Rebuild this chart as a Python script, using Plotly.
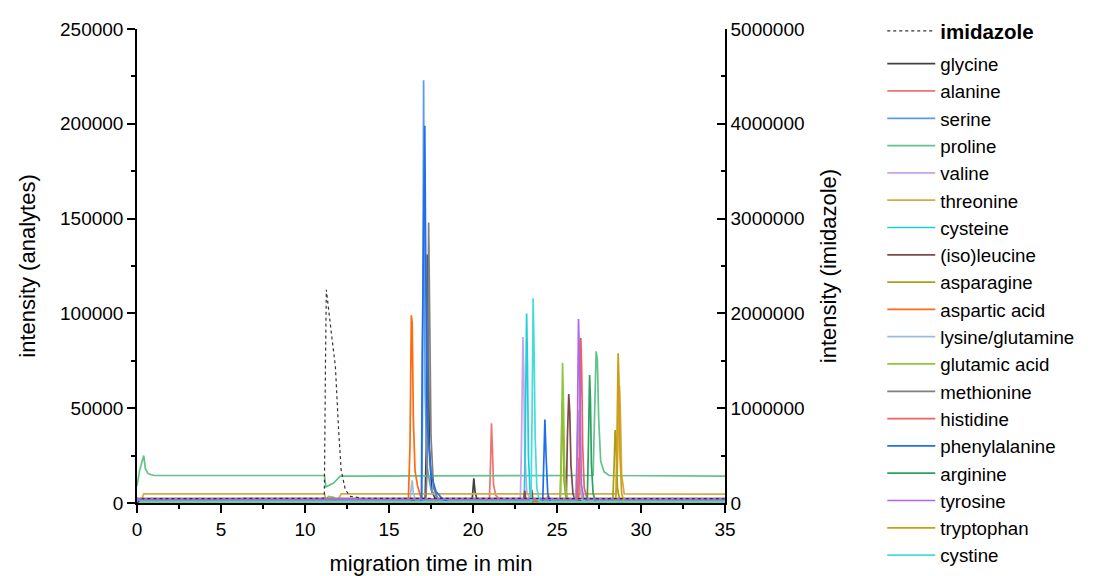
import plotly.graph_objects as go

# ---- electropherogram data: migration time (min) / intensity ----
imidazole_t = [0, 0.3, 11.1, 11.15, 11.22, 11.27, 11.57, 11.81, 12.0, 12.15, 12.4, 12.7, 13.5, 35]
imidazole_i = [0, 45000, 50000, 60000, 1500000, 2250000, 1790000, 1440000, 770000, 350000, 140000, 70000, 50000, 45000]

glycine_t = [0, 17.15, 17.22, 17.28, 17.33, 17.4, 17.55, 17.8, 19.95, 20.0, 20.05, 20.12, 20.25, 35]
glycine_i = [1500, 1500, 30000, 131000, 90000, 30000, 6000, 1500, 1500, 8000, 13000, 6000, 1500, 1500]

alanine_t = [0, 20.98, 21.04, 21.1, 21.15, 21.22, 21.35, 21.6, 35]
alanine_i = [2000, 2000, 20000, 42000, 30000, 10000, 4000, 2000, 2000]

serine_t = [0, 16.95, 17.0, 17.06, 17.1, 17.15, 17.25, 17.5, 17.9, 18.3, 35]
serine_i = [500, 500, 60000, 223000, 140000, 60000, 20000, 7000, 2500, 500, 500]

proline_t = [0, 0.15, 0.4, 0.5, 0.66, 1.0, 11.15, 11.25, 11.7, 12.1, 27.15, 27.25, 27.33,
             27.4, 27.48, 27.6, 27.8, 28.1, 35]
proline_i = [9000, 17000, 25000, 18000, 15500, 14500, 14500, 8500, 10500, 14200, 14500, 45000, 80000,
             76000, 45000, 22000, 16500, 14500, 14200]

valine_t = [0, 22.82, 22.88, 22.93, 22.97, 23.02, 23.08, 23.2, 23.4, 35]
valine_i = [2200, 2200, 28000, 60000, 87500, 70000, 28000, 6000, 2200, 2200]

threonine_t = [0, 0.25, 0.4, 11.15, 11.25, 12.0, 12.15, 28.55, 28.63, 28.72, 28.78, 28.85, 29.0, 35]
threonine_i = [0, 1000, 4800, 4800, 2000, 2200, 4800, 4800, 30000, 62000, 45000, 15000, 4800, 4700]

cysteine_t = [0, 23.05, 23.12, 23.19, 23.24, 23.3, 23.4, 23.55, 35]
cysteine_i = [300, 300, 40000, 100000, 75000, 25000, 5000, 300, 300]

isoleucine_t = [0, 23.0, 23.08, 23.16, 23.42, 23.5, 23.58, 25.55, 25.62, 25.7, 25.76, 25.83, 25.95, 26.1, 35]
isoleucine_i = [300, 300, 6500, 300, 300, 7000, 300, 300, 35000, 57500, 48000, 20000, 5000, 300, 300]

asparagine_t = [0, 25.18, 25.25, 25.3, 25.35, 25.42, 25.55, 28.32, 28.4, 28.46, 28.52, 28.6, 28.75, 35]
asparagine_i = [800, 800, 25000, 53000, 40000, 12000, 800, 800, 20000, 38500, 30000, 8000, 800, 800]

aspartic_t = [0, 16.15, 16.25, 16.33, 16.38, 16.45, 16.55, 16.7, 16.9, 17.1,
              24.38, 24.45, 24.52, 26.2, 26.3, 26.4, 26.5, 35]
aspartic_i = [1000, 1000, 30000, 99000, 95000, 44000, 17000, 9000, 3000, 1000,
              1000, 3700, 1000, 1000, 24000, 8000, 1000, 1000]

lysgln_t = [0, 16.25, 16.32, 16.38, 16.45, 16.6, 26.1, 26.18, 26.25, 26.3, 26.38, 26.5, 35]
lysgln_i = [1200, 1200, 8000, 12000, 5000, 1200, 1200, 20000, 49000, 35000, 10000, 1200, 1200]

glutamic_t = [0, 11.2, 11.4, 11.7, 11.9, 25.2, 25.27, 25.33, 25.38, 25.45, 25.55, 25.7, 35]
glutamic_i = [600, 600, 3500, 3000, 600, 600, 30000, 74000, 55000, 20000, 5000, 600, 600]

methionine_t = [0, 17.2, 17.28, 17.36, 17.42, 17.5, 17.65, 17.9, 35]
methionine_i = [2500, 2500, 20000, 148000, 100000, 35000, 8000, 2500, 2500]

histidine_t = [0, 26.3, 26.36, 26.42, 26.47, 26.53, 26.62, 26.8, 35]
histidine_i = [1800, 1800, 40000, 87000, 70000, 30000, 8000, 1800, 1800]

phenylalanine_t = [0, 16.93, 16.98, 17.03, 17.08, 17.13, 17.2, 17.3, 17.5, 17.8, 18.2, 18.6,
                   24.15, 24.22, 24.28, 24.35, 24.45, 24.6, 35]
phenylalanine_i = [400, 400, 80000, 133000, 150000, 199000, 110000, 40000, 15000, 6000, 2000, 400,
                   400, 25000, 44000, 25000, 5000, 400, 400]

arginine_t = [0, 26.8, 26.87, 26.94, 26.99, 27.05, 27.15, 27.3, 35]
arginine_i = [700, 700, 30000, 67500, 55000, 20000, 5000, 700, 700]

tyrosine_t = [0, 26.15, 26.22, 26.28, 26.33, 26.38, 26.45, 26.6, 35]
tyrosine_i = [2000, 2000, 40000, 97000, 80000, 40000, 10000, 2000, 2000]

tryptophan_t = [0, 28.5, 28.57, 28.64, 28.69, 28.75, 28.85, 29.0, 35]
tryptophan_i = [300, 300, 35000, 79000, 65000, 25000, 5000, 300, 300]

cystine_t = [0, 23.45, 23.52, 23.58, 23.63, 23.7, 23.8, 23.95, 35]
cystine_i = [600, 600, 50000, 108000, 85000, 35000, 8000, 600, 600]

analytes = [
    ("glycine", glycine_t, glycine_i),
    ("alanine", alanine_t, alanine_i),
    ("serine", serine_t, serine_i),
    ("proline", proline_t, proline_i),
    ("valine", valine_t, valine_i),
    ("threonine", threonine_t, threonine_i),
    ("cysteine", cysteine_t, cysteine_i),
    ("(iso)leucine", isoleucine_t, isoleucine_i),
    ("asparagine", asparagine_t, asparagine_i),
    ("aspartic acid", aspartic_t, aspartic_i),
    ("lysine/glutamine", lysgln_t, lysgln_i),
    ("glutamic acid", glutamic_t, glutamic_i),
    ("methionine", methionine_t, methionine_i),
    ("histidine", histidine_t, histidine_i),
    ("phenylalanine", phenylalanine_t, phenylalanine_i),
    ("arginine", arginine_t, arginine_i),
    ("tyrosine", tyrosine_t, tyrosine_i),
    ("tryptophan", tryptophan_t, tryptophan_i),
    ("cystine", cystine_t, cystine_i),
]

# ---- styling ----
colors = {
    "glycine": "#404040",
    "alanine": "#f07272",
    "serine": "#5b9bef",
    "proline": "#62c48c",
    "valine": "#c9a2e8",
    "threonine": "#d6aa45",
    "cysteine": "#1cd0d8",
    "(iso)leucine": "#7e4a4a",
    "asparagine": "#a3a01a",
    "aspartic acid": "#ff6a10",
    "lysine/glutamine": "#9bbce0",
    "glutamic acid": "#8dc63f",
    "methionine": "#808080",
    "histidine": "#f06060",
    "phenylalanine": "#1f6feb",
    "arginine": "#2ea05f",
    "tyrosine": "#b266e6",
    "tryptophan": "#cc9e14",
    "cystine": "#45dcdc",
}

FONT = "Liberation Sans, Arial, sans-serif"
LEGEND_X = 0.8006

fig = go.Figure()

fig.add_trace(go.Scatter(
    x=imidazole_t, y=imidazole_i, name="<b>imidazole</b>", mode="lines",
    line=dict(color="#333333", width=1.2, dash="dot"),
    yaxis="y2", legend="legend2",
))

# the analyte key is split over two stacked legend boxes
for k, (name, t, inten) in enumerate(analytes):
    fig.add_trace(go.Scatter(
        x=t, y=inten, name=name, mode="lines",
        line=dict(color=colors[name], width=1.7),
        legend="legend" if k < 10 else "legend3",
    ))

axis_common = dict(
    showgrid=False, zeroline=False, showline=True, linecolor="black", linewidth=1.5,
    tickcolor="black", tickwidth=1.5, ticklen=8, automargin=False,
    tickfont=dict(family=FONT, size=19, color="black"),
)

legend_common = dict(
    xref="container", yref="container", x=LEGEND_X,
    xanchor="left", yanchor="top",
    font=dict(family=FONT, size=18.7, color="black"),
    itemwidth=48, bgcolor="rgba(0,0,0,0)", tracegroupgap=0,
)

fig.update_layout(
    width=1102, height=576,
    margin=dict(l=137, r=377, t=29, b=73, autoexpand=False),
    paper_bgcolor="white", plot_bgcolor="white",
    font=dict(family=FONT, color="black"),
    xaxis=dict(
        range=[0, 35], dtick=5, ticks="outside",
        minor=dict(dtick=2.5, ticks="outside", ticklen=4, tickcolor="black", tickwidth=1.5),
        title=dict(text="migration time in min", font=dict(family=FONT, size=22), standoff=27),
        **axis_common,
    ),
    yaxis=dict(
        range=[0, 250000], dtick=50000, tickformat="d", ticks="outside",
        minor=dict(dtick=25000, ticks="outside", ticklen=4, tickcolor="black", tickwidth=1.5),
        title=dict(text="intensity (analytes)", font=dict(family=FONT, size=22), standoff=18),
        **axis_common,
    ),
    yaxis2=dict(
        range=[0, 5000000], dtick=1000000, tickformat="d", ticks="inside",
        overlaying="y", side="right",
        minor=dict(dtick=500000, ticks="inside", ticklen=4, tickcolor="black", tickwidth=1.5),
        title=dict(text="intensity (imidazole)", font=dict(family=FONT, size=22), standoff=17),
        **axis_common,
    ),
    legend=dict(y=1 - 45 / 576, **legend_common),
    legend3=dict(y=1 - 318 / 576, **legend_common),
    legend2=dict(
        xref="container", yref="container", x=LEGEND_X, y=1 - 11 / 576,
        xanchor="left", yanchor="top",
        font=dict(family=FONT, size=20.5, color="black"),
        itemwidth=48, bgcolor="rgba(0,0,0,0)",
    ),
)

fig.write_html("out.html")
